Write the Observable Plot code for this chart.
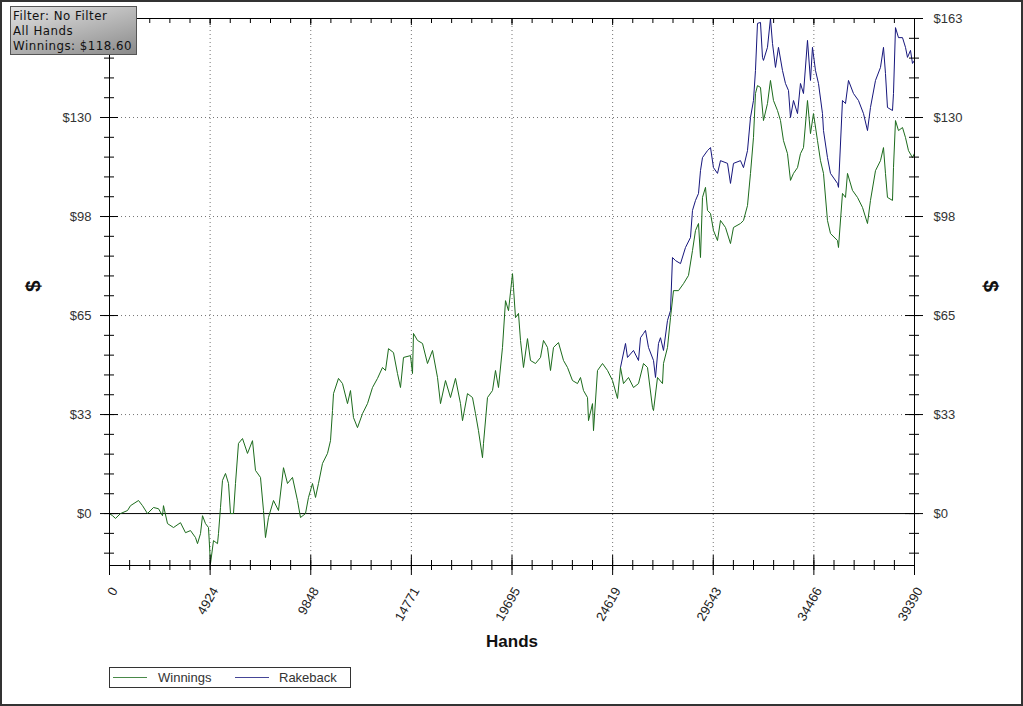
<!DOCTYPE html>
<html>
<head>
<meta charset="utf-8">
<script src="https://cdn.jsdelivr.net/npm/d3@7"></script>
<script src="https://cdn.jsdelivr.net/npm/@observablehq/plot@0.6"></script>
<style>
  html, body { margin: 0; padding: 0; background: #fff; }
  #wrap { position: relative; width: 1023px; height: 706px; overflow: hidden; background: #fff; }
  #wrap svg { position: absolute; left: 0; top: 0; }
  #border { position: absolute; left: 0; top: 0; width: 1023px; height: 706px; box-sizing: border-box; border: 2px solid #333; pointer-events: none; }
  #info { position: absolute; left: 10px; top: 6px; width: 127px; height: 49px; box-sizing: border-box;
    border: 1px solid #555; background: linear-gradient(165deg, #e2e2e2 0%, #b2b2b2 55%, #8a8a8a 100%); }
  #infoText { position: absolute; left: 2px; top: 2px; margin: 0;
    font-family: "DejaVu Sans", Verdana, sans-serif; font-size: 11.8px; letter-spacing: 0.5px; line-height: 15px; color: #111; white-space: pre; }
  #legend { position: absolute; left: 109px; top: 667px; width: 242px; height: 21px; box-sizing: border-box;
    border: 1px solid #333; font-family: "Liberation Sans", Arial, sans-serif; font-size: 13px; color: #333; background: #fff; }
  #legend .sw { position: absolute; top: 9px; width: 34px; height: 0; border-top: 1px solid; }
  #legend .lb { position: absolute; top: 2px; }
</style>
</head>
<body>
<div id="wrap">
  <div id="chart"></div>
  <div id="info"><p id="infoText"></p></div>
  <div id="legend"></div>
  <div id="border"></div>
</div>
<script>
// ---- data ----
const winHands = [0,147,294,538,881,1028,1419,1615,1859,2153,2398,2593,2642,2838,3132,3474,3719,3963,4208,4306,4453,4551,4697,4844,4942,5089,5285,5333,5431,5529,5676,5823,5921,6067,6165,6312,6508,6752,6997,7144,7388,7535,7633,7780,8025,8269,8514,8710,8954,9199,9346,9590,9737,9933,10080,10226,10422,10667,10814,10912,10961,11205,11401,11646,11792,11939,12135,12380,12624,12869,13113,13358,13505,13652,13896,14092,14239,14386,14728,14826,14875,15071,15316,15560,15805,16050,16196,16441,16686,16930,17175,17273,17517,17762,17909,18055,18251,18300,18496,18741,18887,19034,19230,19377,19524,19719,19768,19866,20013,20111,20257,20453,20600,20845,21090,21236,21432,21579,21726,21970,22215,22411,22655,22900,23047,23194,23390,23439,23634,23683,23879,24124,24369,24613,24858,25004,25151,25396,25640,25885,26130,26325,26570,26619,26815,27059,27108,27304,27451,27597,27842,28087,28331,28527,28674,28821,28918,29016,29163,29261,29408,29554,29750,29897,30141,30386,30533,30875,31022,31218,31365,31511,31609,31707,31854,32000,32196,32343,32490,32686,32833,32979,33175,33322,33469,33665,33811,33958,34154,34301,34447,34643,34790,34937,35132,35279,35622,35671,35866,36013,36111,36356,36600,36845,37090,37236,37481,37726,37873,37970,38068,38313,38362,38460,38607,38803,38949,39096,39292,39390];
const winnings = [0,-0.7,-1.6,0,1.0,2.6,4.3,2.6,0,2.0,1.6,-0.7,2.6,-3.3,-4.6,-3.0,-6.3,-5.6,-7.9,-9.9,-6.6,-0.7,-3.3,-4.6,-16.5,-8.9,-9.9,-6.6,2.0,10.9,13.2,9.9,0,0,9.9,23.1,24.7,19.8,24.0,14.2,11.9,1.0,-7.9,-1.3,4.3,1.0,15.1,9.9,11.9,4.3,-1.3,0,5.3,9.9,5.3,9.9,16.5,19.8,24.0,33.9,39.5,44.5,42.8,36.2,40.5,31.6,28.3,32.9,36.2,41.5,44.5,48.1,47.1,54.3,53.0,46.1,41.5,51.4,52.0,46.1,59.3,57.0,56.0,49.4,53.7,44.8,36.2,43.8,38.2,44.5,36.2,30.6,39.5,38.2,32.9,27.3,18.4,23.1,38.2,40.5,47.1,41.5,54.7,70.1,66.8,79.0,74.4,64.5,65.9,57.0,48.1,57.6,50.4,49.4,51.4,57.0,54.7,47.1,54.7,56.3,50.4,48.1,43.8,42.8,44.8,40.5,38.2,30.6,36.2,27.3,47.1,49.4,47.1,43.8,37.9,48.1,42.8,44.8,41.5,42.8,49.4,48.1,34.9,33.9,44.8,42.8,49.4,54.7,64.5,73.4,73.4,75.7,78.4,86.6,93.2,95.5,84.3,104.1,107.4,99.8,98.8,93.2,89.9,96.5,94.2,88.9,94.2,95.5,96.5,101.4,112.0,123.8,138.3,140.9,140.3,129.4,135.0,142.6,136.0,132.7,129.4,122.8,118.5,109.7,112.0,113.9,118.5,120.5,136.0,125.1,131.7,122.8,116.2,112.0,96.5,92.2,89.9,87.6,105.4,104.1,112.0,106.4,104.1,100.8,95.5,103.1,112.9,116.2,120.5,112.0,104.1,103.1,113.9,129.4,126.1,127.1,123.8,119.5,117.2,118.6];
const rbHands = [25004,25249,25347,25640,25885,25983,26130,26228,26374,26619,26717,26864,26961,27108,27304,27451,27548,27695,27940,28184,28429,28527,28674,28821,28918,29016,29261,29408,29554,29750,29897,30240,30386,30533,30875,31022,31218,31365,31511,31609,31707,31854,31952,32000,32196,32343,32441,32588,32734,32930,33077,33224,33322,33469,33665,33811,33958,34154,34301,34398,34545,34692,34888,34937,35132,35279,35622,35671,35866,36013,36160,36405,36649,36894,37090,37236,37481,37726,37873,37970,38068,38313,38362,38460,38607,38803,38949,39047,39194,39292,39390];
const rakeback = [48.1,56.0,51.4,53.7,50.4,57.9,59.3,60.3,54.7,50.4,44.8,56.0,57.9,53.7,63.6,66.8,84.3,83.3,82.3,87.6,90.9,99.8,103.1,105.4,112.9,117.2,119.5,120.5,113.9,112.0,116.2,115.3,108.7,115.3,116.2,113.9,119.5,130.4,136.0,145.9,161.4,161.7,150.2,149.2,153.5,163.0,154.8,146.9,153.5,145.9,141.6,139.3,130.4,136.0,131.7,141.6,138.3,155.8,142.6,153.5,145.9,141.6,131.7,126.1,117.2,112.0,108.7,107.4,136.0,135.0,142.6,138.3,136.0,131.7,126.1,133.7,142.6,146.9,153.5,144.9,133.7,132.7,138.3,160.0,156.7,156.7,153.5,150.2,152.5,148.2,149.2];

const xTicks = [0, 4924, 9848, 14771, 19695, 24619, 29543, 34466, 39390];
const yTicks = [0, 32.6, 65.2, 97.8, 130.4, 163];
const yTickLabels = ["$0", "$33", "$65", "$98", "$130", "$163"];
const seriesNames = ["Winnings", "Rakeback"];
const infoLines = ["Filter: No Filter", "All Hands", "Winnings: $118.60"];
const xTitle = "Hands";
const yTitle = "$";

// ---- build ----
const GREEN = "#1c6b1c", NAVY = "#16167c";
const winData = winHands.slice(0, Math.min(winHands.length, winnings.length)).map((h, i) => ({hands: h, value: winnings[i]}));
const rbData = rbHands.slice(0, Math.min(rbHands.length, rakeback.length)).map((h, i) => ({hands: h, value: rakeback[i]}));
const xMinor = d3.range(0, 40).map(i => i * 39390 / 40);
const yMinor = d3.range(-2, 26).map(i => i * 163 / 25);
const labelOf = new Map(yTicks.map((t, i) => [t, yTickLabels[i]]));

const W = 1023, H = 706, ML = 109, MR = 109, MT = 18, MB = 141;
const FW = W - ML - MR, FH = H - MT - MB;

const chart = Plot.plot({
  width: W, height: H,
  marginLeft: ML, marginRight: MR, marginTop: MT, marginBottom: MB,
  style: {fontFamily: "'Liberation Sans', Arial, sans-serif", fontSize: "13px", background: "transparent", color: "#333"},
  x: {domain: [0, 39390], axis: null},
  y: {domain: [-17.1, 163], axis: null},
  marks: [
    Plot.gridX(xTicks.slice(1, -1), {stroke: "#666", strokeOpacity: 0.9, strokeDasharray: "1,3"}),
    Plot.gridY(yTicks.slice(1, -1), {stroke: "#666", strokeOpacity: 0.9, strokeDasharray: "1,3"}),
    Plot.ruleY([0], {stroke: "#000", strokeWidth: 1}),
    Plot.line(rbData, {x: "hands", y: "value", stroke: NAVY, strokeWidth: 1, clip: true}),
    Plot.line(winData, {x: "hands", y: "value", stroke: GREEN, strokeWidth: 1, clip: true}),
    Plot.frame({stroke: "#000"}),
    // left axis ticks (crossing)
    Plot.tickY(yMinor, {y: d => d, insetRight: FW - 10, dx: -5, stroke: "#000"}),
    Plot.tickY(yTicks, {y: d => d, insetRight: FW - 18, dx: -9, stroke: "#000"}),
    // right axis ticks (crossing)
    Plot.tickY(yMinor, {y: d => d, insetLeft: FW - 10, dx: 5, stroke: "#000"}),
    Plot.tickY(yTicks, {y: d => d, insetLeft: FW - 18, dx: 9, stroke: "#000"}),
    // bottom axis ticks (crossing)
    Plot.tickX(xMinor, {x: d => d, insetTop: FH - 10, dy: 5, stroke: "#000"}),
    Plot.tickX(xTicks, {x: d => d, insetTop: FH - 20, dy: 10, stroke: "#000"}),
    // top axis ticks (inside)
    Plot.tickX(xMinor, {x: d => d, insetBottom: FH - 5, stroke: "#000"}),
    Plot.tickX(xTicks, {x: d => d, insetBottom: FH - 7, stroke: "#000"}),
    // tick labels
    Plot.axisY(yTicks, {anchor: "left", tickSize: 0, tickPadding: 18, tickFormat: d => labelOf.get(d), label: null, fill: "#333", fontSize: 13}),
    Plot.axisY(yTicks, {anchor: "right", tickSize: 0, tickPadding: 19, tickFormat: d => labelOf.get(d), label: null, fill: "#333", fontSize: 13}),
    Plot.text(xTicks, {x: d => d, frameAnchor: "bottom", text: d => String(d), rotate: -60, textAnchor: "end", lineAnchor: "middle", dx: 5, dy: 23, fill: "#222", fontSize: 13}),
    // axis titles
    Plot.text([xTitle], {frameAnchor: "bottom", text: d => d, dy: 81, fontSize: 17, fontWeight: "bold", fill: "#111"}),
    Plot.text([yTitle], {frameAnchor: "left", text: d => d, dx: -76, rotate: -90, fontSize: 21, fontWeight: "bold", fill: "#111"}),
    Plot.text([yTitle], {frameAnchor: "right", text: d => d, dx: 76, rotate: 90, fontSize: 21, fontWeight: "bold", fill: "#111"})
  ]
});
document.getElementById("chart").appendChild(chart);

// info box (single text block)
document.getElementById("infoText").textContent = infoLines.join("\n");

// legend
const colors = [GREEN, NAVY];
const swX = [3, 125], lbX = [48, 169];
document.getElementById("legend").innerHTML = seriesNames.map((n, i) =>
  `<div class="sw" style="left:${swX[i]}px;border-color:${colors[i]};opacity:0.8"></div><div class="lb" style="left:${lbX[i]}px">${n}</div>`).join("");
</script>
</body>
</html>
